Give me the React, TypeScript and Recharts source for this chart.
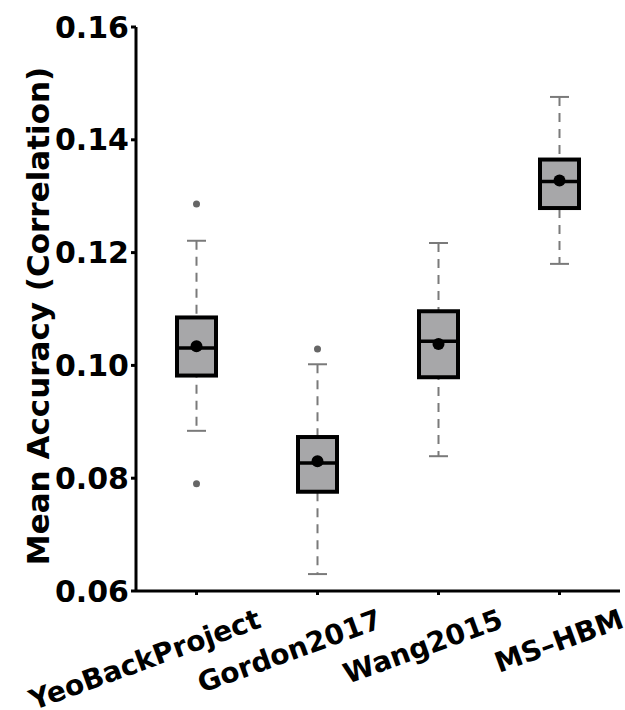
import { ComposedChart, Bar, Scatter, XAxis, YAxis } from 'recharts';

const categories = ['YeoBackProject', 'Gordon2017', 'Wang2015', 'MS–HBM'];
const whiskerLow = [0.0884, 0.0630, 0.0839, 0.1180];
const q1 = [0.0982, 0.0776, 0.0979, 0.1279];
const median = [0.1031, 0.0827, 0.1043, 0.1326];
const q3 = [0.1085, 0.0873, 0.1096, 0.1365];
const whiskerHigh = [0.1221, 0.1002, 0.1217, 0.1476];
const mean = [0.1034, 0.0830, 0.1038, 0.1328];
const outlierHigh = [0.1286, 0.1029, null, null];
const outlierLow = [0.0790, null, null, null];
const yTicks = [0.06, 0.08, 0.10, 0.12, 0.14, 0.16];

const data = categories.map((name, i) => ({
    name,
    whisker: [whiskerLow[i], whiskerHigh[i]],
    box: [q1[i], q3[i]],
    median: median[i],
    mean: mean[i],
    outHi: outlierHigh[i],
    outLo: outlierLow[i],
}));

const FONT = '"DejaVu Sans", sans-serif';
const BOX_W = 39;

const WhiskerShape = (props: any) => {
    const { x, y, width, height } = props;
    const top = Math.min(y, y + height);
    const bottom = Math.max(y, y + height);
    const cx = x + width / 2;
    return (
        <g stroke="#7a7a7a" strokeWidth={2}>
            <line x1={cx} x2={cx} y1={top} y2={bottom} strokeDasharray="9 7" />
            <line x1={x} x2={x + width} y1={top} y2={top} />
            <line x1={x} x2={x + width} y1={bottom} y2={bottom} />
        </g>
    );
};

const BoxShape = (props: any) => {
    const { x, y, width, height } = props;
    const top = Math.min(y, y + height);
    return <rect x={x} y={top} width={width} height={Math.abs(height)} fill="#a7a7a9" stroke="#000" strokeWidth={4} />;
};

const MedianShape = (props: any) => (
    <line x1={props.cx - BOX_W / 2} x2={props.cx + BOX_W / 2} y1={props.cy} y2={props.cy} stroke="#000" strokeWidth={3.5} />
);

const MeanShape = (props: any) => <circle cx={props.cx} cy={props.cy} r={6} fill="#000" />;

const outlierShape = (key: string) => (props: any) =>
    props.payload[key] == null ? <g /> : <circle cx={props.cx} cy={props.cy} r={3.5} fill="#666" />;

const XTick = (props: any) => {
    const { x, y, payload } = props;
    const tx = x + 66;
    const ty = y + 30;
    return (
        <text x={tx} y={ty} textAnchor="end" transform={`rotate(-20, ${tx}, ${ty})`}
            fontFamily={FONT} fontWeight="bold" fontSize={28} fill="#000">
            {payload.value}
        </text>
    );
};

const YLabel = (props: any) => {
    const vb = props.viewBox;
    const cx = vb.x + 38;
    const cy = vb.y + vb.height / 2 + 7;
    return (
        <text x={cx} y={cy} transform={`rotate(-90, ${cx}, ${cy})`} textAnchor="middle" dominantBaseline="central"
            fontFamily={FONT} fontWeight="bold" fontSize={31} fill="#000">
            Mean Accuracy (Correlation)
        </text>
    );
};

export default function App() {
    return (
        <div style={{ position: 'absolute', left: 0, top: 0, background: '#fff' }}>
            <ComposedChart width={625} height={710} data={data} margin={{ top: 27, right: 5, left: 0, bottom: 0 }}>
                <XAxis xAxisId="main" dataKey="name" type="category" height={119}
                    axisLine={{ stroke: '#000', strokeWidth: 3 }} tickLine={{ stroke: '#000', strokeWidth: 3 }}
                    tickSize={4} tickMargin={2} tick={<XTick />} interval={0} />
                <XAxis xAxisId="box" dataKey="name" type="category" height={0} hide />
                <YAxis type="number" domain={[0.06, 0.16]} ticks={yTicks} width={136} allowDataOverflow
                    tickFormatter={(v: number) => v.toFixed(2)}
                    axisLine={{ stroke: '#000', strokeWidth: 3 }} tickLine={{ stroke: '#000', strokeWidth: 3 }}
                    tickSize={5} tickMargin={2}
                    tick={{ fill: '#000', fontFamily: FONT, fontWeight: 'bold', fontSize: 30 }}
                    label={<YLabel />} />
                <Bar xAxisId="main" dataKey="whisker" barSize={19} shape={<WhiskerShape />} isAnimationActive={false} />
                <Bar xAxisId="box" dataKey="box" barSize={BOX_W} shape={<BoxShape />} isAnimationActive={false} />
                <Scatter xAxisId="main" dataKey="median" shape={<MedianShape />} isAnimationActive={false} />
                <Scatter xAxisId="main" dataKey="mean" shape={<MeanShape />} isAnimationActive={false} />
                <Scatter xAxisId="main" dataKey="outHi" shape={outlierShape('outHi')} isAnimationActive={false} />
                <Scatter xAxisId="main" dataKey="outLo" shape={outlierShape('outLo')} isAnimationActive={false} />
            </ComposedChart>
        </div>
    );
}
